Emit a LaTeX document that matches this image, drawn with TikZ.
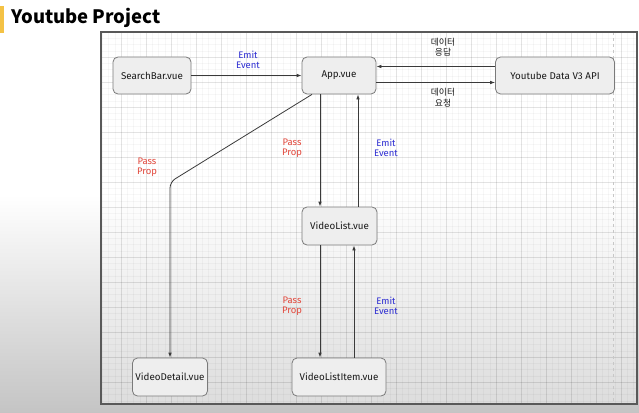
\documentclass[tikz,border=0pt]{standalone}
\usepackage{fontspec}
\setmainfont{Fira Sans}
\newfontfamily\krfont{Noto Sans CJK KR}
\usetikzlibrary{arrows.meta,calc}
\definecolor{titlebar}{HTML}{F4C245}
\definecolor{propred}{HTML}{E2483C}
\definecolor{emitblue}{HTML}{2E2ED2}
\definecolor{boxfill}{HTML}{EEEEEE}
\definecolor{boxline}{HTML}{7A7A7A}
\definecolor{lineclr}{HTML}{3A3A3A}
\tikzset{
  comp/.style={draw=boxline, fill=boxfill, rounded corners=5pt, line width=0.8pt,
    minimum height=37pt, inner sep=0pt, font=\fontsize{9.8}{11}\selectfont, text=black!90},
  arr/.style={draw=lineclr, line width=0.8pt, -{Latex[length=5pt,width=3.6pt]}},
  redlbl/.style={text=propred, font=\fontsize{9.5}{10.5}\selectfont, align=center, inner sep=0pt},
  bluelbl/.style={text=emitblue, font=\fontsize{9.5}{10.5}\selectfont, align=center, inner sep=0pt},
  krlbl/.style={text=black!90, font=\krfont\fontsize{8.8}{10.5}\selectfont, align=center, inner sep=0pt},
  minorgrid/.style={draw=black, draw opacity=0.03, line width=0.4pt},
  majorgrid/.style={draw=black, draw opacity=0.08, line width=0.5pt}
}
\begin{document}
\begin{tikzpicture}[x=1pt,y=-1pt]
\useasboundingbox (0,0) rectangle (639,412);
% background
\fill[white] (0,0) rectangle (639,412);
\shade[top color=white, bottom color=black!23] (0,195) rectangle (639,412);
% title
\fill[titlebar] (0,6) rectangle (4,33);
\node[anchor=west, inner sep=0pt, font=\krfont\bfseries\fontsize{18.5}{20}\selectfont] (title) at (11,18) {Youtube Project};
% frame
\fill[white, fill opacity=0.4] (101,32) rectangle (637,404);
\foreach \x in {102.25,108.5,...,636} \draw[minorgrid] (\x,32) -- (\x,404);
\foreach \y in {38.25,44.5,...,404} \draw[minorgrid] (101,\y) -- (637,\y);
\foreach \x in {121,146,...,621} \draw[majorgrid] (\x,32) -- (\x,404);
\foreach \y in {57,82,...,394} \draw[majorgrid] (101,\y) -- (637,\y);
\draw[black!22, dashed, line width=0.5pt] (613,32) -- (613,404);
\draw[black!65, line width=1.1pt] (101,32) rectangle (637,404);
% components
\node[comp, minimum width=78pt] (search) at (152,75.5) {SearchBar.vue};
\node[comp, minimum width=74pt] (app) at (339,75.5) {App.vue};
\node[comp, minimum width=119pt] (yt) at (555,75.5) {Youtube Data V3 API};
\node[comp, minimum width=75pt, minimum height=38pt] (vlist) at (339.5,226) {VideoList.vue};
\node[comp, minimum width=75pt, minimum height=38pt] (vdetail) at (170,377) {VideoDetail.vue};
\node[comp, minimum width=94pt, minimum height=38pt] (vitem) at (339,377) {VideoListItem.vue};
% connectors
\draw[arr] (search.east) -- (app.west);
\draw[arr] ([yshift=9pt]yt.west) -- ([yshift=9pt]app.east);
\draw[arr] ([yshift=-7pt]app.east) -- ([yshift=-7pt]yt.west);
\draw[arr] ([xshift=-19pt]app.south) -- ([xshift=-19.5pt]vlist.north);
\draw[arr] ([xshift=18.5pt]vlist.north) -- ([xshift=19pt]app.south);
\draw[arr] ([xshift=-19.5pt]vlist.south) -- ([xshift=-19pt]vitem.north);
\draw[arr] ([xshift=15pt]vitem.north) -- ([xshift=14.5pt]vlist.south);
\coordinate (bend) at (170,182);
\draw[arr, rounded corners=6pt] ([xshift=-27pt]app.south) -- (bend) -- (vdetail.north);
% labels
\node[bluelbl] (l1) at (248,60) {Emit\\Event};
\node[krlbl] (l2) at (443,47) {데이터\\응답};
\node[krlbl] (l3) at (443,97.5) {데이터\\요청};
\node[redlbl] (l4) at (292,148) {Pass\\Prop};
\node[bluelbl] (l5) at (386,148) {Emit\\Event};
\node[redlbl] (l6) at (147,167) {Pass\\Prop};
\node[redlbl] (l7) at (292,306) {Pass\\Prop};
\node[bluelbl] (l8) at (386,306) {Emit\\Event};
\end{tikzpicture}
\end{document}
